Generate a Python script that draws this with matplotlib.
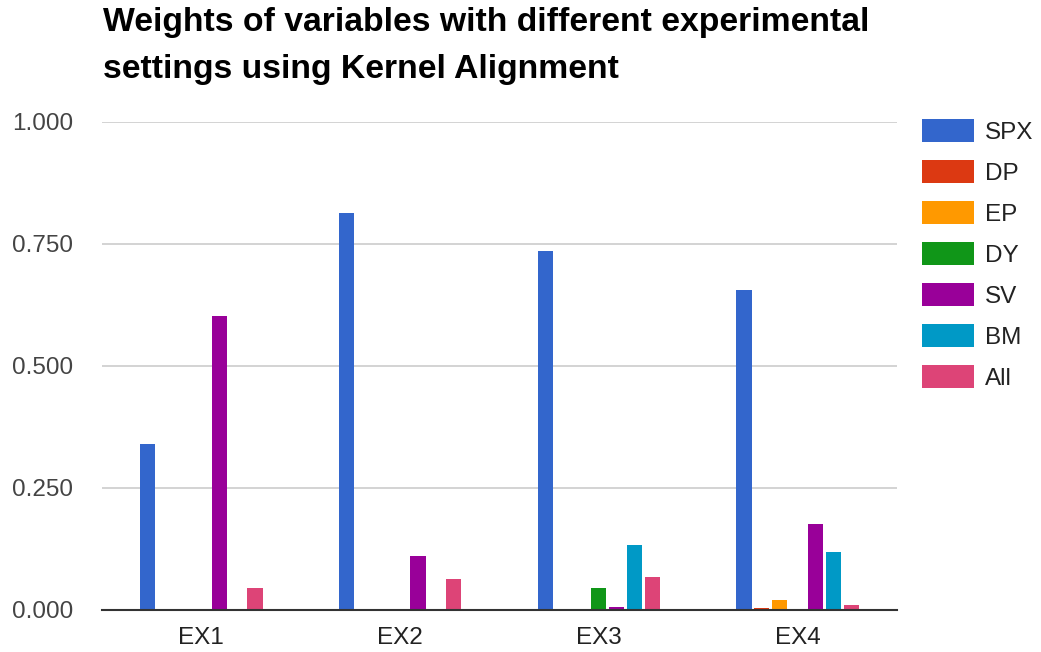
import matplotlib
matplotlib.use("Agg")
import matplotlib.pyplot as plt
import numpy as np

plt.rcParams['font.family'] = ['Liberation Sans', 'DejaVu Sans']

categories = ["EX1", "EX2", "EX3", "EX4"]
series_names = ["SPX", "DP", "EP", "DY", "SV", "BM", "All"]
spx = [0.340, 0.813, 0.736, 0.656]
dp = [0.0, 0.0, 0.0, 0.004]
ep = [0.0, 0.0, 0.0, 0.020]
dy = [0.0, 0.0, 0.045, 0.0]
sv = [0.603, 0.111, 0.0055, 0.176]
bm = [0.0, 0.0, 0.133, 0.118]
all_vars = [0.045, 0.063, 0.067, 0.010]
yticks = [0.0, 0.25, 0.5, 0.75, 1.0]
ytick_labels = ["0.000", "0.250", "0.500", "0.750", "1.000"]

colors = ["#3366cc", "#dc3912", "#ff9900", "#109618", "#990099", "#0099c6", "#dd4477"]
series = [spx, dp, ep, dy, sv, bm, all_vars]

fig = plt.figure(figsize=(10.41, 6.52), dpi=100)
ax = fig.add_axes([102 / 1041, 1 - 610 / 652, 795 / 1041, 488 / 652])

x = np.arange(len(categories))
step = 0.09
width = 0.076
for i, (name, vals, c) in enumerate(zip(series_names, series, colors)):
    offs = (i - 3) * step
    ax.bar(x + offs, vals, width=width, color=c, label=name, zorder=3,
           edgecolor='none')

ax.set_xlim(-0.5, len(categories) - 0.5)
ax.set_ylim(0, 1.0)
ax.set_yticks(yticks)
ax.set_yticklabels(ytick_labels)
ax.set_xticks(x)
ax.set_xticklabels(categories)
ax.yaxis.grid(True, color="#cccccc", linewidth=1.2, zorder=0)
ax.set_axisbelow(True)
for s in ["top", "right", "left"]:
    ax.spines[s].set_visible(False)
ax.spines["bottom"].set_color("#333333")
ax.spines["bottom"].set_linewidth(1.5)
ax.spines["bottom"].set_zorder(4)
ax.tick_params(axis='both', length=0, labelsize=17.5)
ax.tick_params(axis='y', colors="#444444", pad=21)
ax.tick_params(axis='x', colors="#222222", pad=12)

# Two-line title; baseline of the last line anchors the block
fig.text(103 / 1041, 1 - 78 / 652,
         "Weights of variables with different experimental\nsettings using Kernel Alignment",
         fontsize=24.3, fontweight='bold', color="#000000", va='baseline', ha='left',
         linespacing=1.68)

leg = ax.legend(loc='upper left', bbox_to_anchor=(922 / 1041, 1 - 119 / 652),
                bbox_transform=fig.transFigure, frameon=False, fontsize=17.5,
                handlelength=2.14, handleheight=1.07, labelspacing=0.67,
                handletextpad=0.45, borderpad=0, borderaxespad=0)
for t in leg.get_texts():
    t.set_color("#222222")

fig.savefig("out.png", dpi=100)
